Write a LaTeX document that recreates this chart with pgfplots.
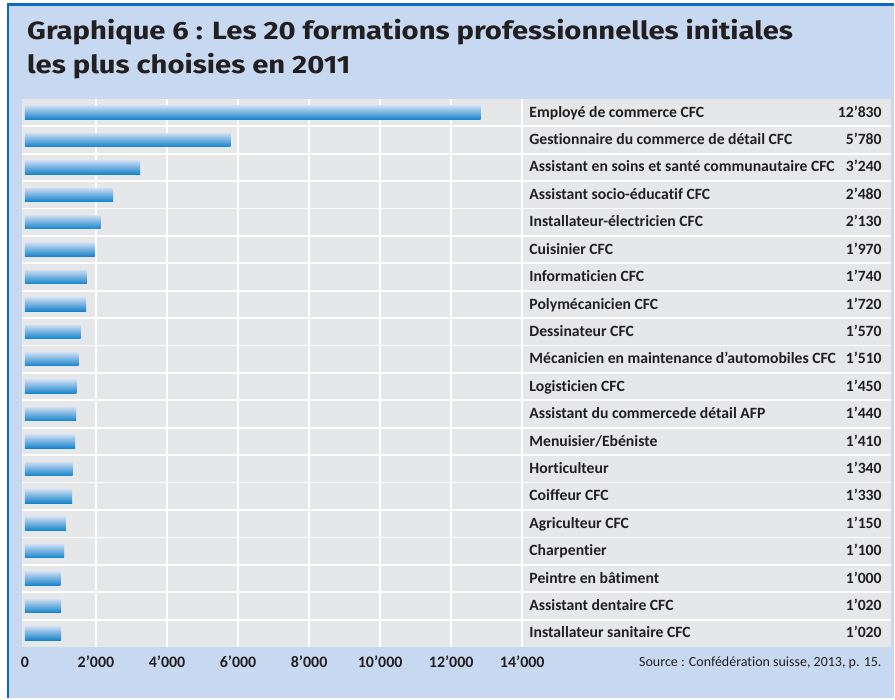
\documentclass[border=0pt]{standalone}
\usepackage{pgfplots}
\pgfplotsset{compat=1.18}
\usepackage{fontspec}
\setmainfont{Carlito}[Ligatures=NoCommon]
\newfontfamily\titlefont{Fira Sans}[Ligatures=NoCommon, FakeStretch=1.17]
\definecolor{bgblue}{HTML}{C6D9F1}
\definecolor{borderblue}{HTML}{0A6AC7}
\definecolor{panel}{HTML}{E6E7E9}
\definecolor{txt}{HTML}{231F20}
\definecolor{bartop}{HTML}{CADCF3}
\definecolor{barbot}{HTML}{1684CB}
\newcommand{\lab}[2]{\makebox[352.7pt][l]{#1\hfill #2}}
\begin{document}
\begin{tikzpicture}[x=1pt,y=1pt]
% background
\fill[white] (-22,-51) rectangle (873,648);
\fill[bgblue] (-13,-51) rectangle (873,642.3);
\draw[borderblue, line width=2.6pt] (-14,-51) -- (-14,643.5) -- (873,643.5);
% label panel
\fill[panel] (501,0) rectangle (870,549);
\foreach \k in {1,...,19} \draw[white, line width=1.8pt] (501,{549-\k*27.45}) -- (870,{549-\k*27.45});
\draw[white, line width=2.4pt] (501,0) -- (501,549);
% title
\node[anchor=base west, inner sep=0pt, text=txt, font=\titlefont\bfseries\fontsize{25}{25}\selectfont] at (5,608)
  {Graphique 6 : Les 20 formations professionnelles initiales};
\node[anchor=base west, inner sep=0pt, text=txt, font=\titlefont\bfseries\fontsize{25}{25}\selectfont] at (5,574)
  {les plus choisies en 2011};
% source
\node[anchor=base east, inner sep=0pt, text=txt, font=\fontsize{14}{14}\selectfont] at (861,-19)
  {Source : Confédération suisse, 2013, p. 15.};
\begin{axis}[
  at={(0,0)}, anchor=south west,
  width=501pt, height=549pt, scale only axis,
  xbar, bar width=13.5pt, bar shift=0pt,
  every axis plot/.append style={bar shift=0pt},
  xmin=-84, xmax=14000, ymin=0.5, ymax=20.5,
  axis background/.style={fill=panel},
  axis line style={draw=none},
  major tick length=0pt, minor tick length=0pt,
  scaled x ticks=false,
  xtick={2000,4000,6000,8000,10000,12000,14000},
  xticklabels={2’000,4’000,6’000,8’000,10’000,12’000,14’000},
  extra x ticks={0}, extra x tick labels={0},
  extra x tick style={grid=none},
  xmajorgrids,
  major grid style={white, line width=2.4pt},
  xticklabel style={anchor=base, inner sep=0pt, yshift=-20pt, text=txt, font=\bfseries\fontsize{16}{16}\selectfont},
  ytick={1,...,20},
  minor ytick={1.5,2.5,...,19.5},
  yminorgrids,
  minor grid style={white, line width=1.8pt},
  yticklabel pos=right,
  yticklabel style={anchor=base west, inner sep=0pt, xshift=7pt, yshift=-4.6pt, text=txt, font=\bfseries\fontsize{15.7}{15.7}\selectfont},
  yticklabels={
    {\lab{Installateur sanitaire CFC}{1’020}},
    {\lab{Assistant dentaire CFC}{1’020}},
    {\lab{Peintre en bâtiment}{1’000}},
    {\lab{Charpentier}{1’100}},
    {\lab{Agriculteur CFC}{1’150}},
    {\lab{Coiffeur CFC}{1’330}},
    {\lab{Horticulteur}{1’340}},
    {\lab{Menuisier/Ebéniste}{1’410}},
    {\lab{Assistant du commercede détail AFP}{1’440}},
    {\lab{Logisticien CFC}{1’450}},
    {\lab{Mécanicien en maintenance d’automobiles CFC}{1’510}},
    {\lab{Dessinateur CFC}{1’570}},
    {\lab{Polymécanicien CFC}{1’720}},
    {\lab{Informaticien CFC}{1’740}},
    {\lab{Cuisinier CFC}{1’970}},
    {\lab{Installateur-électricien CFC}{2’130}},
    {\lab{Assistant socio-éducatif CFC}{2’480}},
    {\lab{Assistant en soins et santé communautaire CFC}{3’240}},
    {\lab{Gestionnaire du commerce de détail CFC}{5’780}},
    {\lab{Employé de commerce CFC}{12’830}}
  },
  mybar/.style={draw=none, top color=bartop, bottom color=barbot},
]
\addplot[mybar] coordinates {(12830,20)};
\addplot[mybar] coordinates {(5780,19)};
\addplot[mybar] coordinates {(3240,18)};
\addplot[mybar] coordinates {(2480,17)};
\addplot[mybar] coordinates {(2130,16)};
\addplot[mybar] coordinates {(1970,15)};
\addplot[mybar] coordinates {(1740,14)};
\addplot[mybar] coordinates {(1720,13)};
\addplot[mybar] coordinates {(1570,12)};
\addplot[mybar] coordinates {(1510,11)};
\addplot[mybar] coordinates {(1450,10)};
\addplot[mybar] coordinates {(1440,9)};
\addplot[mybar] coordinates {(1410,8)};
\addplot[mybar] coordinates {(1340,7)};
\addplot[mybar] coordinates {(1330,6)};
\addplot[mybar] coordinates {(1150,5)};
\addplot[mybar] coordinates {(1100,4)};
\addplot[mybar] coordinates {(1000,3)};
\addplot[mybar] coordinates {(1020,2)};
\addplot[mybar] coordinates {(1020,1)};
\end{axis}
\end{tikzpicture}
\end{document}
